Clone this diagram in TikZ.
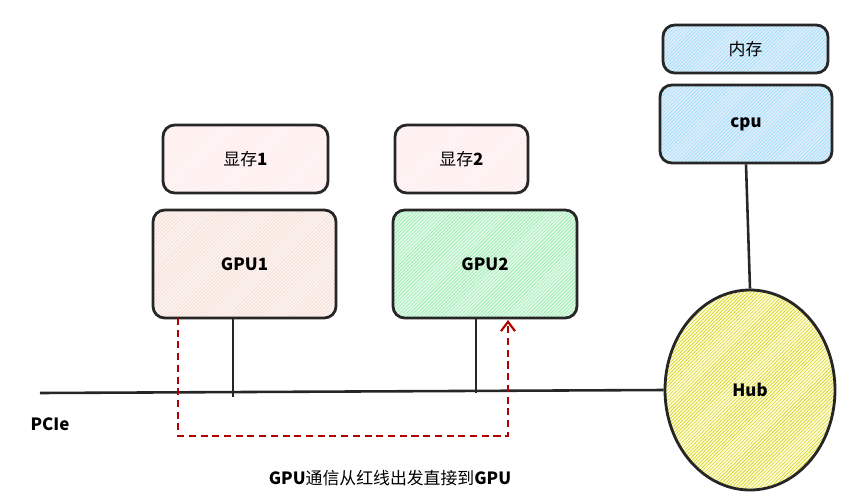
\documentclass[tikz,border=0pt]{standalone}
\usepackage{fontspec}
\newfontfamily\cjk{Noto Sans CJK SC}
\usetikzlibrary{patterns,arrows.meta,shapes.geometric}
\begin{document}
\begin{tikzpicture}[x=0.03cm,y=-0.03cm,
  box/.style={draw=black!85,line width=2.4pt,rounded corners=10pt},
  lnk/.style={line width=2.2pt,black!85},
  red/.style={draw=red!70!black,line width=1.8pt,dash pattern=on 6pt off 4pt}]
\useasboundingbox (0,0) rectangle (862,502);
\def\hbx#1#2#3#4#5#6{%
  \fill[#5!12,rounded corners=10pt] (#1,#2) rectangle (#3,#4);
  \fill[pattern=north east lines,pattern color=#5!45,rounded corners=10pt] (#1,#2) rectangle (#3,#4);
  \node[box,minimum width={(#3-#1)*0.03cm},minimum height={(#4-#2)*0.03cm}] (#6) at ({(#1+#3)/2},{(#2+#4)/2}) {};}
\hbx{163}{125}{328}{193}{pink}{m1}
\node at (m1) {\cjk\Large 显存\textbf{1}};
\hbx{153}{210}{336}{318}{brown!40!pink}{g1}
\node at (g1) {\cjk\bfseries\Large GPU1};
\hbx{395}{125}{528}{193}{pink}{m2}
\node at (m2) {\cjk\Large 显存\textbf{2}};
\hbx{393}{210}{577}{318}{green!60!teal}{g2}
\node at (g2) {\cjk\bfseries\Large GPU2};
\hbx{663}{25}{828}{73}{cyan!70!blue}{mem}
\node at (mem) {\cjk\Large 内存};
\hbx{660}{85}{832}{163}{cyan!70!blue}{cpu}
\node at (cpu) {\cjk\bfseries\Large cpu};
\fill[yellow!15] (750,390) ellipse (85 and 100);
\fill[pattern=north east lines,pattern color=yellow!60!olive] (750,390) ellipse (85 and 100);
\node[draw=black!85,line width=2.4pt,ellipse,minimum width=5.1cm,minimum height=6cm,inner sep=0pt] (hub) at (750,390) {};
\node at (hub) {\cjk\bfseries\Large Hub};
\coordinate (pl) at (40,393);
\draw[lnk] (pl) -- (hub.west);
\draw[lnk] (cpu.south) -- (hub.north);
\draw[lnk] (233,318) -- (233,397);
\draw[lnk] (476,318) -- (476,393);
\draw[red,-{Straight Barb[length=8pt,width=12pt]}] (178,318) -- (178,436) -- (508,436) -- (508,320);
\node[font=\cjk\bfseries\Large] (pcie) at (50,424) {PCIe};
\node[font=\cjk\Large] (cap) at (390,478) {\textbf{GPU}通信从红线出发直接到\textbf{GPU}};
\end{tikzpicture}
\end{document}
